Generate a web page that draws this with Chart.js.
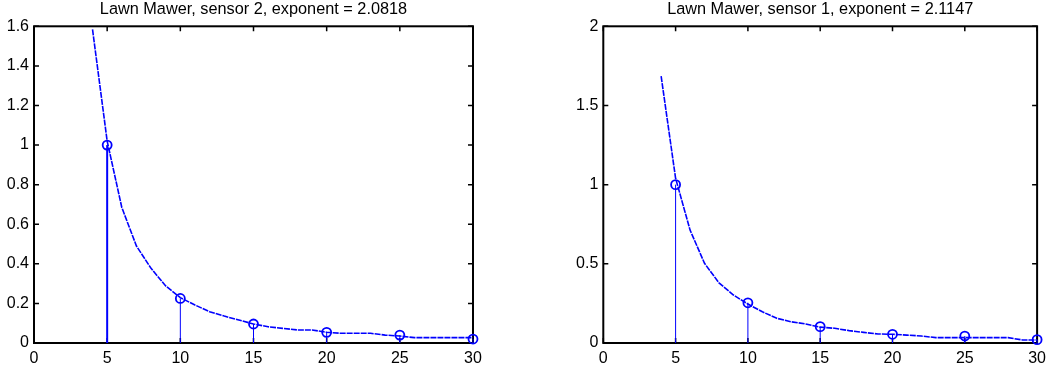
<!DOCTYPE html>
<html>
<head>
<meta charset="utf-8">
<script src="https://cdn.jsdelivr.net/npm/chart.js@4/dist/chart.umd.min.js"></script>
<style>
  html, body { margin: 0; padding: 0; background: #fff; }
  body { width: 1052px; height: 375px; position: relative; overflow: hidden; }
  canvas { position: absolute; top: 0; }
  #c1 { left: 0; }
  #c2 { left: 526px; }
</style>
</head>
<body>
<canvas id="c1" width="526" height="375"></canvas>
<canvas id="c2" width="526" height="375"></canvas>
<script>
// ---- data ----
const titleLeft = 'Lawn Mawer, sensor 2, exponent = 2.0818';
const titleRight = 'Lawn Mawer, sensor 1, exponent = 2.1147';

const xTicks = [0, 5, 10, 15, 20, 25, 30];
const xTickLabels = ['0', '5', '10', '15', '20', '25', '30'];
const leftYTicks = [0, 0.2, 0.4, 0.6, 0.8, 1, 1.2, 1.4, 1.6];
const leftYTickLabels = ['0', '0.2', '0.4', '0.6', '0.8', '1', '1.2', '1.4', '1.6'];
const rightYTicks = [0, 0.5, 1, 1.5, 2];
const rightYTickLabels = ['0', '0.5', '1', '1.5', '2'];

const curveX = [4, 5, 6, 7, 8, 9, 10, 11, 12, 13, 14, 15, 16, 17, 18, 19, 20, 21, 22, 23, 24, 25, 26, 27, 28, 29, 30];
const leftCurve = [1.584, 1.02, 0.685, 0.49, 0.377, 0.288, 0.229, 0.192, 0.158, 0.136, 0.116, 0.096, 0.082, 0.074, 0.066, 0.066, 0.054, 0.049, 0.049, 0.049, 0.040, 0.035, 0.027, 0.027, 0.027, 0.027, 0.027];
const rightCurve = [1.685, 1.04, 0.713, 0.503, 0.38, 0.303, 0.246, 0.197, 0.156, 0.134, 0.12, 0.1, 0.093, 0.078, 0.067, 0.057, 0.055, 0.05, 0.044, 0.034, 0.034, 0.034, 0.034, 0.034, 0.034, 0.019, 0.019];

const stemX = [5, 10, 15, 20, 25, 30];
const leftStems = [1.0, 0.225, 0.096, 0.054, 0.04, 0.02];
const rightStems = [1.0, 0.254, 0.103, 0.055, 0.044, 0.021];

// ---- styling ----
const FONT = "'Liberation Sans', Arial, sans-serif";
const BLUE = '#0000ff';

const frame = {
  id: 'frame',
  beforeDatasetsDraw(chart) {
    const { ctx, chartArea: a, scales: { x, y } } = chart;
    ctx.save();
    ctx.strokeStyle = '#000';
    ctx.lineWidth = 2;
    ctx.strokeRect(a.left, a.top, a.right - a.left, a.bottom - a.top);
    ctx.lineWidth = 1.5;
    const L = 5;
    ctx.beginPath();
    x.ticks.forEach(t => {
      const p = x.getPixelForValue(t.value);
      ctx.moveTo(p, a.bottom); ctx.lineTo(p, a.bottom - L);
      ctx.moveTo(p, a.top); ctx.lineTo(p, a.top + L);
    });
    y.ticks.forEach(t => {
      const p = y.getPixelForValue(t.value);
      ctx.moveTo(a.left, p); ctx.lineTo(a.left + L, p);
      ctx.moveTo(a.right, p); ctx.lineTo(a.right - L, p);
    });
    ctx.stroke();
    ctx.restore();
  }
};

function makeChart(id, title, curve, stems, stemWidths, yTicks, yLabels, yMax, yWidth, padRight) {
  const datasets = [{
    data: curveX.map((x, i) => ({ x, y: curve[i] })),
    borderColor: BLUE,
    borderWidth: 1.6,
    borderDash: [6, 1],
    pointRadius: 0,
    tension: 0,
    fill: false,
    clip: false
  }];
  stemX.forEach((x, i) => {
    datasets.push({
      data: [{ x, y: 0 }, { x, y: stems[i] }],
      borderColor: BLUE,
      borderWidth: stemWidths[i],
      pointRadius: c => (c.dataIndex === 1 ? 4.5 : 0),
      pointBorderWidth: 1.8,
      pointBorderColor: BLUE,
      pointBackgroundColor: 'rgba(0,0,0,0)',
      fill: false,
      clip: false
    });
  });

  return new Chart(document.getElementById(id), {
    type: 'line',
    data: { datasets },
    plugins: [frame],
    options: {
      responsive: false,
      animation: false,
      devicePixelRatio: 1,
      layout: { padding: { left: 0, right: padRight, top: 0, bottom: 0 } },
      plugins: {
        legend: { display: false },
        tooltip: { enabled: false },
        title: {
          display: true,
          fullSize: false,
          text: title,
          color: '#000',
          font: { family: FONT, size: 16.3, weight: 'normal', lineHeight: 1 },
          padding: { top: 1, bottom: 9 }
        }
      },
      scales: {
        x: {
          type: 'linear',
          min: 0, max: 30,
          grid: { display: false, drawTicks: false },
          border: { display: false },
          ticks: {
            color: '#000',
            font: { family: FONT, size: 16 },
            padding: 6,
            autoSkip: false,
            maxRotation: 0,
            callback: (v, i) => xTickLabels[i]
          },
          afterBuildTicks: s => { s.ticks = xTicks.map(v => ({ value: v })); },
          afterFit: s => { s.height = 32; }
        },
        y: {
          type: 'linear',
          min: 0, max: yMax,
          grid: { display: false, drawTicks: false },
          border: { display: false },
          ticks: {
            color: '#000',
            font: { family: FONT, size: 16 },
            padding: 5,
            autoSkip: false,
            callback: (v, i) => yLabels[i]
          },
          afterBuildTicks: s => { s.ticks = yTicks.map(v => ({ value: v })); },
          afterFit: s => { s.width = yWidth; }
        }
      }
    }
  });
}

makeChart('c1', titleLeft, leftCurve, leftStems, [2, 1, 1, 1, 1, 1], leftYTicks, leftYTickLabels, 1.6, 34, 53);
makeChart('c2', titleRight, rightCurve, rightStems, [1, 1, 1, 1, 1, 1], rightYTicks, rightYTickLabels, 2, 77.3, 10.3);
</script>
</body>
</html>
